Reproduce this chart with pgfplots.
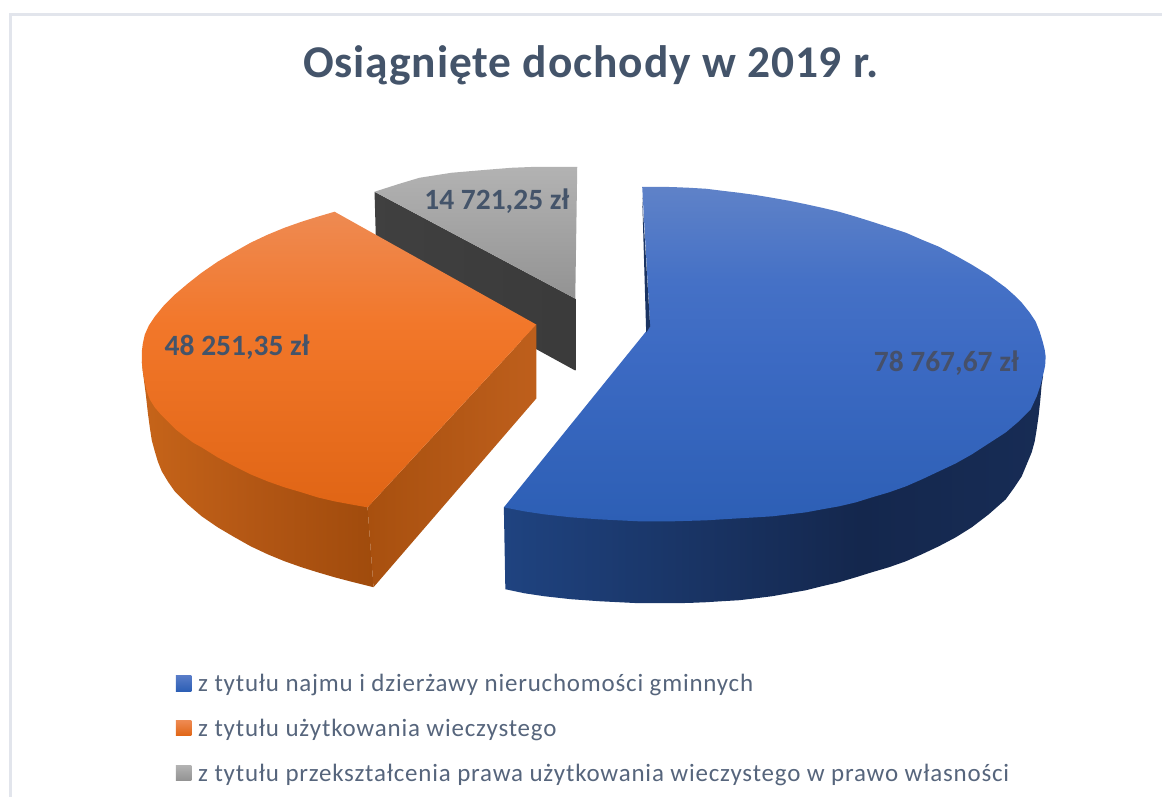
\documentclass[border=0pt]{standalone}
\usepackage{pgfplots}
\pgfplotsset{compat=1.18}
\usepackage{fontspec}
\setmainfont{Carlito}
\definecolor{txt}{HTML}{44546A}
\definecolor{lgd}{HTML}{56657C}
\definecolor{frm}{HTML}{E2E5EC}
\definecolor{o0}{RGB}{224,101,21}\definecolor{o1}{RGB}{242,119,42}\definecolor{o2}{RGB}{238,138,82}
\definecolor{b0}{RGB}{45,95,181}\definecolor{b1}{RGB}{60,106,195}\definecolor{b2}{RGB}{69,113,198}\definecolor{b3}{RGB}{95,130,200}
\definecolor{os0}{RGB}{198,100,25}\definecolor{os1}{RGB}{178,86,20}\definecolor{os2}{RGB}{160,75,12}
\definecolor{bs0}{RGB}{31,67,128}\definecolor{bs1}{RGB}{20,39,77}\definecolor{bs2}{RGB}{23,44,85}
\pgfdeclareverticalshading{otop}{100bp}{color(0bp)=(o0);color(25bp)=(o0);color(56bp)=(o1);color(75bp)=(o2);color(100bp)=(o2)}
\pgfdeclareverticalshading{btop}{100bp}{color(0bp)=(b0);color(25bp)=(b0);color(49.6bp)=(b1);color(61bp)=(b2);color(75bp)=(b3);color(100bp)=(b3)}
\pgfdeclarehorizontalshading{oside}{100bp}{color(0bp)=(os0);color(25bp)=(os0);color(50bp)=(os1);color(75bp)=(os2);color(100bp)=(os2)}
\pgfdeclarehorizontalshading{bside}{100bp}{color(0bp)=(bs0);color(25bp)=(bs0);color(58bp)=(bs1);color(75bp)=(bs2);color(100bp)=(bs2)}
\pgfplotsset{sh/.style={forget plot,draw=none,no markers}}
\begin{document}
\begin{tikzpicture}
\begin{axis}[
  scale only axis,width=1163pt,height=798pt,
  xmin=0,xmax=1163,ymin=0,ymax=798,y dir=reverse,
  hide axis,clip=false,
  legend style={at={(axis cs:176,675)},anchor=north west,draw=none,fill=none,
    inner sep=0pt,outer sep=0pt,row sep=26pt,
    font=\fontsize{25}{30}\selectfont\addfontfeature{LetterSpace=3.2},text=lgd,
    nodes={anchor=west,inner sep=0pt,outer sep=0pt}},
  legend cell align=left,
  legend image code/.code={\path[draw=none,#1] (0pt,-7.5pt) rectangle (15.5pt,8pt);},
]
% page extent
\addplot[forget plot,draw=none,no markers] coordinates {(0,0)(1163,798)};
% frame
\addplot[forget plot,no markers,draw=frm,line width=3pt] coordinates {(1163,14.5)(11,14.5)(11,798)};
% gray slice
\addplot[sh,left color=black!75,right color=black!77] coordinates {(375,192)(576,299)(576,371)(377,262)} --cycle;
\addplot[sh,top color=gray!60,bottom color=gray!85] coordinates {(375,192)(400,184)(420,178)(452,173)(487,170)(512,168)(537,167)(578,167)(576,299)} --cycle;
% orange slice
\addplot[sh,shade,shading=oside] coordinates {(142,362)(143,372)(146,395)(148,413)(150,428)(152,441)(155,452)(158,462)(162,472)(168,482)(175,492)(188,505)(202,517)(218,528)(235,538)(251,547)(268,555)(285,562)(302,568)(318,573)(335,578)(354,583)(374,588)(368,508)} --cycle;
\addplot[sh,left color={rgb,255:red,168;green,80;blue,15},right color={rgb,255:red,190;green,95;blue,28}] coordinates {(368,508)(537,325)(537,399)(374,588)} --cycle;
\addplot[sh,shade,shading=otop] coordinates {(537,325)(335,212)(318,217)(302,222)(285,228)(268,235)(251,243)(235,252)(218,262)(202,273)(188,284)(175,295)(164,306)(155,317)(149,326)(145,335)(143,344)(142,352)(142,362)(143,372)(145,383)(147,392)(150,400)(155,408)(161,415)(168,422)(176,430)(185,437)(193,443)(202,448)(218,458)(235,467)(251,475)(268,482)(285,488)(302,493)(318,498)(335,502)(351,505)(368,508)} --cycle;
% blue slice
\addplot[sh,shade,shading=bside] coordinates {(1044.5,376)(1043,385)(1041.7,400)(1040,416)(1038,430)(1036,442)(1033,453)(1028,465)(1023,477)(1015,489)(1007,500)(990,515)(973,528)(957,538)(940,547)(923,555)(907,562)(890,568)(873,573)(857,578)(840,583)(823,587)(807,591)(790,594)(773,597)(757,599)(740,601)(723,602)(707,603)(690,603.7)(673,604)(640,604)(620,603)(600,602)(572,600)(545,597)(525,594)(506,590)(504.5,508)(900,400)} --cycle;
\addplot[sh,shade,shading=btop] coordinates {(643,187)(658,187)(673,187.3)(690,188)(707,189)(723,191)(740,193)(757,195.3)(773,198)(790,201)(807,204.5)(823,208)(840,212)(857,217)(873,222)(890,227.5)(907,233)(923,240)(940,247)(957,256)(973,265)(990,275.5)(1007,288)(1016,296)(1023,303)(1031,313)(1037,322)(1041,332)(1044,342)(1046,350)(1047,357)(1046.5,366)(1045,373)(1042,385)(1038,397)(1032,410)(1020,422)(1007,433)(990,444)(973,455)(957,464)(940,472)(923,480)(907,487)(890,493)(873,498)(857,503)(840,507)(823,510)(807,513)(790,515)(773,517)(757,518)(740,519)(723,520)(707,521)(690,521.5)(673,522)(655,522)(640,522)(620,521)(600,520)(572,518)(545,515)(525,512)(504.5,508)(646,333)(651,327)} --cycle;
\addplot[sh,fill={rgb,255:red,27;green,52;blue,98}] coordinates {(643,197)(647,333)(651,327)} --cycle;
% labels
\node[font=\fontsize{45.5}{54}\selectfont\bfseries,text=txt,anchor=center] at (axis cs:591.5,65) {\addfontfeature{LetterSpace=2}Osiągnięte dochody w 2019 r.};
\node[font=\fontsize{29.5}{34}\selectfont\bfseries,text=txt,anchor=center] at (axis cs:497.5,201) {14 721,25 zł};
\node[font=\fontsize{29.5}{34}\selectfont\bfseries,text=txt,anchor=center] at (axis cs:237.5,348) {48 251,35 zł};
\node[font=\fontsize{29.5}{34}\selectfont\bfseries,text={rgb,255:red,70;green,80;blue,105},anchor=center] at (axis cs:947.5,364) {78 767,67 zł};
% legend
\addlegendimage{top color={rgb,255:red,88;green,124;blue,200},bottom color={rgb,255:red,45;green,95;blue,181}}
\addlegendimage{top color={rgb,255:red,238;green,138;blue,82},bottom color={rgb,255:red,224;green,101;blue,21}}
\addlegendimage{top color=gray!60,bottom color=gray!85}
\legend{\hspace{7pt}z tytułu najmu i dzierżawy nieruchomości gminnych,\hspace{7pt}z tytułu użytkowania wieczystego,\hspace{7pt}z tytułu przekształcenia prawa użytkowania wieczystego w prawo własności}
\end{axis}
\end{tikzpicture}
\end{document}
